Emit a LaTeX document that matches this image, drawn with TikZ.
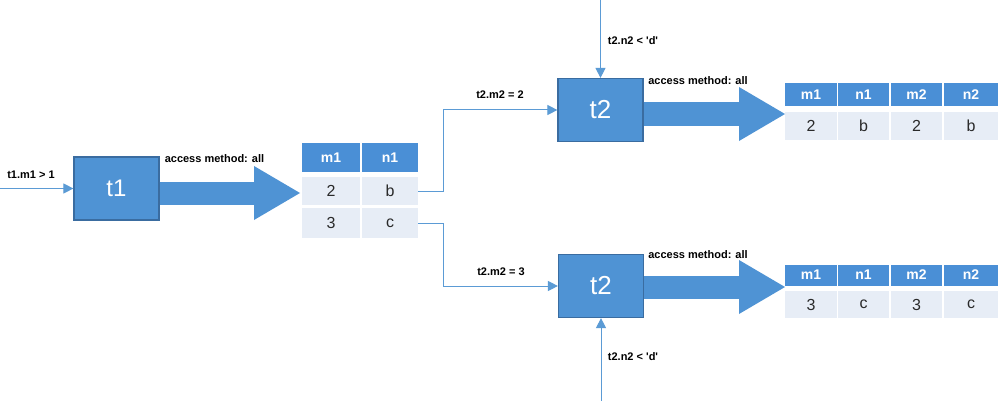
\documentclass[tikz,border=0pt]{standalone}
\usepackage{fontspec}
\setmainfont{Liberation Sans}
\usetikzlibrary{arrows.meta}
\definecolor{hblue}{HTML}{4A8FD6}
\definecolor{boxblue}{HTML}{4F93D4}
\definecolor{boxedge}{HTML}{3A6CA0}
\definecolor{rowfill}{HTML}{E7EDF6}
\definecolor{lineblue}{HTML}{5B9BD5}
\definecolor{txt}{HTML}{2A2A2A}
\begin{document}
\begin{tikzpicture}[x=1pt,y=-1pt,
  opbox/.style={draw=boxedge, line width=1.2pt, fill=boxblue, text=white, inner sep=0pt, minimum width=85pt, minimum height=63pt},
  hcell/.style={fill=hblue, text=white, inner sep=0pt, font=\bfseries\fontsize{14}{14}\selectfont},
  rcell/.style={fill=rowfill, text=txt, inner sep=0pt, font=\fontsize{16}{16}\selectfont},
  lbl/.style={font=\bfseries\fontsize{11}{11}\selectfont, text=black, inner sep=0pt},
  thin/.style={draw=lineblue, line width=1pt, -{Triangle[length=10pt,width=10pt]}},
  plain/.style={draw=lineblue, line width=1pt},
  bigarrow/.style={draw=boxblue, line width=23pt, -{Triangle[length=46pt,width=54pt,line width=0pt]}}
]
\useasboundingbox (0,0) rectangle (1000,401);
\fill[white] (0,0) rectangle (1000,401);

% operator boxes
\node[opbox, font=\fontsize{24}{24}\selectfont] (t1) at (116.5,188.5) {t1};
\node[opbox, font=\fontsize{26}{26}\selectfont] (t2a) at (600.5,110) {t2};
\node[opbox, font=\fontsize{26}{26}\selectfont] (t2b) at (601,286) {t2};

% table 1
\node[hcell, minimum width=58pt, minimum height=29pt] (ta-h1) at (331,157.5) {m1};
\node[hcell, minimum width=56pt, minimum height=29pt] (ta-h2) at (390,157.5) {n1};
\node[rcell, minimum width=58pt, minimum height=28pt] (ta-a1) at (331,191) {2};
\node[rcell, minimum width=56pt, minimum height=28pt] (ta-a2) at (390,191) {b};
\node[rcell, minimum width=58pt, minimum height=30pt] (ta-b1) at (331,223) {3};
\node[rcell, minimum width=56pt, minimum height=30pt] (ta-b2) at (390,223) {c};

% table top right
\node[hcell, minimum width=52pt, minimum height=23pt] (tb-h1) at (811,94.5) {m1};
\node[hcell, minimum width=51pt, minimum height=23pt] (tb-h2) at (863.5,94.5) {n1};
\node[hcell, minimum width=51pt, minimum height=23pt] (tb-h3) at (916.5,94.5) {m2};
\node[hcell, minimum width=54pt, minimum height=23pt] (tb-h4) at (971,94.5) {n2};
\node[rcell, minimum width=52pt, minimum height=28pt] (tb-r1) at (811,126) {2};
\node[rcell, minimum width=51pt, minimum height=28pt] (tb-r2) at (863.5,126) {b};
\node[rcell, minimum width=51pt, minimum height=28pt] (tb-r3) at (916.5,126) {2};
\node[rcell, minimum width=54pt, minimum height=28pt] (tb-r4) at (971,126) {b};

% table bottom right
\node[hcell, minimum width=52pt, minimum height=21pt] (tc-h1) at (811,275) {m1};
\node[hcell, minimum width=51pt, minimum height=21pt] (tc-h2) at (863.5,275) {n1};
\node[hcell, minimum width=51pt, minimum height=21pt] (tc-h3) at (916.5,275) {m2};
\node[hcell, minimum width=54pt, minimum height=21pt] (tc-h4) at (971,275) {n2};
\node[rcell, minimum width=52pt, minimum height=27pt] (tc-r1) at (811,304.5) {3};
\node[rcell, minimum width=51pt, minimum height=27pt] (tc-r2) at (863.5,304.5) {c};
\node[rcell, minimum width=51pt, minimum height=27pt] (tc-r3) at (916.5,304.5) {3};
\node[rcell, minimum width=54pt, minimum height=27pt] (tc-r4) at (971,304.5) {c};

% big arrows
\coordinate (tip1) at (300,193);
\coordinate (tip2) at (785,114);
\coordinate (tip3) at (785,287);
\draw[bigarrow] (t1.east |- tip1) -- (tip1);
\draw[bigarrow] (t2a.east |- tip2) -- (tip2);
\draw[bigarrow] (t2b.east |- tip3) -- (tip3);

% thin connectors
\coordinate (in1) at (0,188.5);
\coordinate (in2) at (600.5,0);
\coordinate (in3) at (601,401);
\draw[thin] (in1) -- (t1.west);
\draw[thin] (in2) -- (t2a.north);
\draw[thin] (in3) -- (t2b.south);
\draw[thin] (ta-a2.east) -- ++(25,0) |- (t2a.west);
\draw[thin] (ta-b2.east) -- ++(25,0) |- (t2b.west);

% labels
\node[lbl] (l1) at (31,175) {t1.m1 > 1};
\node[lbl] (l2) at (214.5,159) {access method: all};
\node[lbl] (l3) at (698,81) {access method: all};
\node[lbl] (l4) at (698,255) {access method: all};
\node[lbl] (l5) at (500,95) {t2.m2 = 2};
\node[lbl] (l6) at (501,272) {t2.m2 = 3};
\node[lbl] (l7) at (633,41) {t2.n2 < \textquotesingle d\textquotesingle};
\node[lbl] (l8) at (633,357) {t2.n2 < \textquotesingle d\textquotesingle};
\end{tikzpicture}
\end{document}
